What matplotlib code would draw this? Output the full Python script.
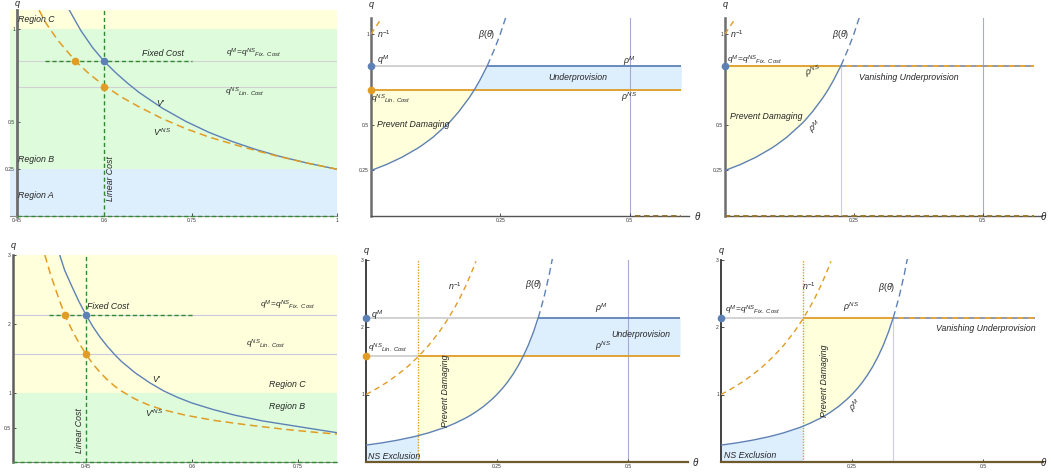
import matplotlib.pyplot as plt
import numpy as np

plt.rcParams['font.family'] = ['Liberation Sans', 'DejaVu Sans']
plt.rcParams['mathtext.fontset'] = 'custom'
plt.rcParams['mathtext.it'] = 'Liberation Sans:italic'
plt.rcParams['mathtext.rm'] = 'Liberation Sans'

W, H = 1051, 473

# --- data ---
# top-left panel: V' and V'^NS against x
v1_x = [0.54, 0.56, 0.58, 0.60, 0.62, 0.64, 0.66, 0.70, 0.74, 0.78, 0.82, 0.86, 0.90, 0.95, 1.00]
v1_q = [1.10, 0.99, 0.90, 0.826, 0.765, 0.71, 0.66, 0.576, 0.506, 0.447, 0.398, 0.356, 0.32, 0.282, 0.25]
vns1_x = [0.488, 0.50, 0.52, 0.55, 0.575, 0.60, 0.63, 0.66, 0.70, 0.74, 0.78, 0.82, 0.86, 0.90, 0.95, 1.00]
vns1_q = [1.10, 1.03, 0.94, 0.83, 0.757, 0.697, 0.635, 0.583, 0.52, 0.467, 0.422, 0.385, 0.35, 0.318, 0.282, 0.25]
qm_top, qns_top = 0.826, 0.69
x_fix1, x_lin1 = 0.55, 0.60

# bottom-left panel
v4_x = [0.413, 0.42, 0.43, 0.44, 0.45, 0.46, 0.47, 0.48, 0.49, 0.50, 0.52, 0.54, 0.56,
        0.58, 0.60, 0.63, 0.66, 0.70, 0.74, 0.78, 0.805]
v4_q = [3.0, 2.78, 2.55, 2.33, 2.135, 1.96, 1.81, 1.68, 1.565, 1.46, 1.29, 1.15, 1.03,
        0.935, 0.855, 0.76, 0.68, 0.595, 0.53, 0.465, 0.425]
vns4_x = [0.392, 0.40, 0.41, 0.42, 0.43, 0.44, 0.45, 0.46, 0.47, 0.48, 0.49, 0.50, 0.52,
          0.54, 0.56, 0.59, 0.63, 0.68, 0.73, 0.775, 0.805]
vns4_q = [3.0, 2.72, 2.42, 2.135, 1.92, 1.73, 1.565, 1.42, 1.30, 1.195, 1.105, 1.03, 0.91,
          0.82, 0.755, 0.68, 0.605, 0.535, 0.475, 0.43, 0.405]
qm_bot, qns_bot = 2.135, 1.565
x_fix4, x_lin4 = 0.42, 0.45

# beta(theta) curve, shared by the four right panels
theta_b = [0, 0.03, 0.06, 0.09, 0.10, 0.12, 0.15, 0.156, 0.17, 0.19, 0.20, 0.21, 0.225,
           0.24, 0.25, 0.261, 0.27, 0.28, 0.29, 0.30, 0.31, 0.32, 0.33, 0.34, 0.35, 0.356]
beta_q = [0.25, 0.283, 0.323, 0.372, 0.391, 0.433, 0.51, 0.528, 0.574, 0.65, 0.694, 0.743, 0.826,
          0.925, 1.0, 1.094, 1.181, 1.291, 1.417, 1.5625, 1.731, 1.929, 2.163, 2.441, 2.778, 3.014]
# n^-1 curve
theta_n = [0, 0.02, 0.04, 0.06, 0.08, 0.10, 0.12, 0.14, 0.156, 0.17, 0.18, 0.19, 0.20, 0.21]
ninv_q = [1.0, 1.085, 1.181, 1.291, 1.417, 1.5625, 1.731, 1.929, 2.113, 2.296, 2.441, 2.601, 2.778, 2.973]
cut5, cut6 = 0.10, 0.156
theta_end = 0.6

xt1, xt1_lab = [0.45, 0.6, 0.75, 1.0], ['0.45', '0.6', '0.75', '1']
yt1, yt1_lab = [0.25, 0.5, 1.0], ['0.25', '0.5', '1']
xt4, xt4_lab = [0.45, 0.6, 0.75], ['0.45', '0.6', '0.75']
yt4, yt4_lab = [0.5, 1, 2, 3], ['0.5', '1', '2', '3']
xt_th, xt_th_lab = [0.25, 0.5], ['0.25', '0.5']
yt_bot, yt_bot_lab = [1, 2, 3], ['1', '2', '3']

BLUE = '#5E81B5'
ORANGE = '#E19C24'
GREEN = '#2F8A2F'
LY = '#FFFFDC'
LG = '#DEFCDC'
LB = '#DDEEFD'
LAV = '#A9A9D6'
GREY = '#D2D2D2'
TXT = '#262626'

fig = plt.figure(figsize=(W / 100, H / 100), dpi=100)


def add_ax(l, r, t, b, xlim, ylim, xt, xl, yt, yl):
    ax = fig.add_axes([l / W, 1 - b / H, (r - l) / W, (b - t) / H])
    ax.set_xlim(xlim)
    ax.set_ylim(ylim)
    ax.patch.set_alpha(0)
    for s in ['top', 'right']:
        ax.spines[s].set_visible(False)
    ax.set_xticks(xt, xl)
    ax.set_yticks(yt, yl)
    ax.tick_params(labelsize=3.6, length=2, width=0.6, pad=1.5, direction='in', colors='#333333')
    return ax


def txt(ax, x, y, s, size=6.3, **kw):
    ax.text(x, y, s, fontsize=size, style='italic', color=TXT, **kw)


def split_at(th, b, level):
    th = np.asarray(th)
    b = np.asarray(b)
    tc = np.interp(level, b, th)
    lo = th < tc
    return (np.append(th[lo], tc), np.append(b[lo], level),
            np.insert(th[~lo], 0, tc), np.insert(b[~lo], 0, level), tc)


def fill_left(ax, th, b, level, th0, color):
    th = np.asarray(th)
    b = np.asarray(b)
    m = th >= th0
    ax.fill_between(th[m], b[m], level, where=b[m] <= level, interpolate=True,
                    color=color, lw=0, zorder=1)


def fill_right(ax, th, b, lo, hi, color):
    t = np.append(th, theta_end)
    u = np.minimum(np.append(b, b[-1]), hi)
    ax.fill_between(t, lo, u, where=u >= lo, interpolate=True, color=color, lw=0, zorder=1)


def axis_labels(ax, qx, qy, tx=None):
    ax.text(qx, qy, 'q', fontsize=6.5, style='italic', color=TXT, ha='center',
            va='center', clip_on=False)
    if tx is not None:
        ax.text(tx, 0, r'$\theta$', fontsize=7, color=TXT, ha='left', va='center', clip_on=False)


# ---------------- top-left ----------------
ax1 = add_ax(10, 337, 10.2, 216, (0.438, 1.0), (0, 1.1), xt1, xt1_lab, yt1, yt1_lab)
ax1.spines['left'].set_position(('data', 0.45))
ax1.spines['left'].set(color='#6d6d6d', lw=2)
ax1.spines['bottom'].set(color='#8a8a8a', lw=0.8)
ax1.axhspan(0, 0.25, color=LB, lw=0, zorder=0)
ax1.axhspan(0.25, 1.0, color=LG, lw=0, zorder=0)
ax1.axhspan(1.0, 1.1, color=LY, lw=0, zorder=0)
ax1.hlines([qm_top, qns_top], 0.45, 1.0, color=GREY, lw=0.8, zorder=1)
ax1.axvline(x_lin1, color=GREEN, lw=1.0, dashes=(3, 2), zorder=2)
ax1.hlines(qm_top, 0.498, 0.75, color=GREEN, lw=1.0, linestyles=(0, (3, 2)), zorder=2)
ax1.hlines(0, 0.45, 1.0, color=GREEN, lw=1.0, linestyles=(0, (3, 2)), zorder=3, clip_on=False)
ax1.plot(v1_x, v1_q, color=BLUE, lw=1.0, zorder=3)
ax1.plot(vns1_x, vns1_q, color=ORANGE, lw=1.1, dashes=(5, 3), zorder=3)
ax1.plot([x_fix1, x_lin1], [qm_top, qns_top], 'o', color=ORANGE, ms=4.5, zorder=5)
ax1.plot([x_lin1], [qm_top], 'o', color=BLUE, ms=4.5, zorder=5)
txt(ax1, 0.451, 1.05, 'Region C', va='center')
txt(ax1, 0.451, 0.30, 'Region B', va='center')
txt(ax1, 0.451, 0.108, 'Region A', va='center')
txt(ax1, 0.70, 0.87, 'Fixed Cost', ha='center', va='center')
txt(ax1, 0.81, 0.87, r'$q^{M}\!=\!q^{NS}{}_{Fix.\ Cost}$', size=6, va='center')
txt(ax1, 0.808, 0.66, r'$q^{NS}{}_{Lin.\ Cost}$', size=6, va='center')
txt(ax1, 0.69, 0.60, "V'", va='center')
txt(ax1, 0.683, 0.45, r"V'$^{NS}$", va='center')
txt(ax1, 0.611, 0.2, 'Linear Cost', rotation=90, ha='center', va='center')
axis_labels(ax1, 0.45, 1.135)

# ---------------- bottom-left ----------------
ax4 = add_ax(13, 337, 255, 462, (0.347, 0.805), (0, 3.0), xt4, xt4_lab, yt4, yt4_lab)
ax4.spines['left'].set(color='#5e5e5e', lw=1.8)
ax4.spines['bottom'].set(color='#8a8a8a', lw=0.8)
ax4.axhspan(0, 1.0, color=LG, lw=0, zorder=0)
ax4.axhspan(1.0, 3.0, color=LY, lw=0, zorder=0)
ax4.hlines([qm_bot, qns_bot], 0.347, 0.805, color='#C9C9E0', lw=0.8, zorder=1)
ax4.axvline(x_lin4, color=GREEN, lw=1.0, dashes=(3, 2), zorder=2)
ax4.hlines(qm_bot, 0.398, 0.602, color=GREEN, lw=1.0, linestyles=(0, (3, 2)), zorder=2)
ax4.hlines(0, 0.347, 0.805, color=GREEN, lw=1.0, linestyles=(0, (3, 2)), zorder=3, clip_on=False)
ax4.plot(v4_x, v4_q, color=BLUE, lw=1.0, zorder=3)
ax4.plot(vns4_x, vns4_q, color=ORANGE, lw=1.1, dashes=(5, 3), zorder=3)
ax4.plot([x_fix4, x_lin4], [qm_bot, qns_bot], 'o', color=ORANGE, ms=4.5, zorder=5)
ax4.plot([x_lin4], [qm_bot], 'o', color=BLUE, ms=4.5, zorder=5)
txt(ax4, 0.452, 2.25, 'Fixed Cost', va='center')
txt(ax4, 0.696, 2.27, r'$q^{M}\!=\!q^{NS}{}_{Fix.\ Cost}$', size=6, va='center')
txt(ax4, 0.676, 1.70, r'$q^{NS}{}_{Lin.\ Cost}$', size=6, va='center')
txt(ax4, 0.544, 1.19, "V'", va='center')
txt(ax4, 0.709, 1.13, 'Region C', va='center')
txt(ax4, 0.709, 0.80, 'Region B', va='center')
txt(ax4, 0.534, 0.71, r"V'$^{NS}$", va='center')
txt(ax4, 0.441, 0.46, 'Linear Cost', rotation=90, ha='center', va='center')
axis_labels(ax4, 0.347, 3.14)

# ---------------- top-middle ----------------
ax2 = add_ax(371, 689, 17.6, 216, (0, 0.615), (0, 1.09), xt_th, xt_th_lab, yt1, yt1_lab)
ax2.spines['left'].set(color='#6d6d6d', lw=1.8)
ax2.spines['bottom'].set(color='#555555', lw=1.0)
fill_left(ax2, theta_b, beta_q, qns_top, 0, LY)
fill_right(ax2, theta_b, beta_q, qns_top, qm_top, LB)
ax2.axvline(0.5, color=LAV, lw=0.8, zorder=1)
t1, b1, t2, b2, tc2 = split_at(theta_b, beta_q, qm_top)
ax2.hlines(qm_top, 0, tc2, color=GREY, lw=1.4, zorder=2)
ax2.hlines(qm_top, tc2, theta_end, color=BLUE, lw=1.3, zorder=2)
ax2.hlines(qns_top, 0, theta_end, color=ORANGE, lw=1.3, zorder=2)
ax2.hlines(0, 0.51, theta_end, color='#8a6a2a', lw=1.3, linestyles=(0, (3, 2)), zorder=3, clip_on=False)
ax2.plot(t1, b1, color=BLUE, lw=1.0, zorder=3)
ax2.plot(t2, b2, color=BLUE, lw=1.0, dashes=(5, 3), zorder=3)
ax2.plot(theta_n, ninv_q, color=ORANGE, lw=1.0, dashes=(4, 3), zorder=3)
ax2.plot([0], [qm_top], 'o', color=BLUE, ms=4.5, zorder=5, clip_on=False)
ax2.plot([0], [qns_top], 'o', color=ORANGE, ms=4.5, zorder=5, clip_on=False)
txt(ax2, 0.011, 1.0, r'$n^{-1}$', va='center')
txt(ax2, 0.207, 0.995, r'$\beta(\theta)$', va='center')
txt(ax2, 0.011, 0.857, r'$q^{M}$', va='center')
txt(ax2, 0.487, 0.85, r'$\rho^{M}$', va='center')
txt(ax2, 0.40, 0.76, 'Underprovision', ha='center', va='center')
txt(ax2, 0.0, 0.64, r'$q^{NS}{}_{Lin.\ Cost}$', size=6, va='center')
txt(ax2, 0.484, 0.655, r'$\rho^{NS}$', va='center')
txt(ax2, 0.011, 0.5, 'Prevent Damaging', va='center')
axis_labels(ax2, 0, 1.16, 0.625)

# ---------------- top-right ----------------
ax3 = add_ax(725, 1042, 17.6, 216, (0, 0.615), (0, 1.09), xt_th, xt_th_lab, yt1, yt1_lab)
ax3.spines['left'].set(color='#6d6d6d', lw=1.8)
ax3.spines['bottom'].set(color='#555555', lw=1.0)
fill_left(ax3, theta_b, beta_q, qm_top, 0, LY)
t1, b1, t2, b2, tc3 = split_at(theta_b, beta_q, qm_top)
ax3.axvline(0.5, color=LAV, lw=0.8, zorder=1)
ax3.vlines(tc3, 0, qm_top, color='#CCCCE6', lw=0.8, zorder=1)
ax3.hlines(qm_top, 0, theta_end, color=ORANGE, lw=1.3, zorder=2)
ax3.hlines(qm_top, tc3, theta_end, color='#8C9CB8', lw=1.3, linestyles=(0, (3, 3)), zorder=2)
ax3.hlines(0, 0, theta_end, color='#9a7228', lw=1.3, linestyles=(0, (3, 2)), zorder=3, clip_on=False)
ax3.plot(t1, b1, color=BLUE, lw=1.0, zorder=3)
ax3.plot(t2, b2, color=BLUE, lw=1.0, dashes=(5, 3), zorder=3)
ax3.plot(theta_n, ninv_q, color=ORANGE, lw=1.0, dashes=(4, 3), zorder=3)
ax3.plot([0], [qm_top], 'o', color=BLUE, ms=4.5, zorder=5, clip_on=False)
txt(ax3, 0.01, 1.0, r'$n^{-1}$', va='center')
txt(ax3, 0.207, 0.995, r'$\beta(\theta)$', va='center')
txt(ax3, 0.004, 0.855, r'$q^{M}\!=\!q^{NS}{}_{Fix.\ Cost}$', size=6, va='center')
txt(ax3, 0.152, 0.795, r'$\rho^{NS}$', va='center', rotation=15)
txt(ax3, 0.26, 0.76, 'Vanishing Underprovision', va='center')
txt(ax3, 0.01, 0.545, 'Prevent Damaging', va='center')
txt(ax3, 0.158, 0.49, r'$\rho^{M}$', va='center', rotation=35)
axis_labels(ax3, 0, 1.16, 0.611)

# ---------------- bottom-middle ----------------
ax5 = add_ax(366, 688, 259.5, 462, (0, 0.615), (0, 3.0), xt_th, xt_th_lab, yt_bot, yt_bot_lab)
ax5.spines['left'].set(color='#333333', lw=1.3)
ax5.spines['bottom'].set(color='#6E5A2C', lw=1.6)
th_arr, b_arr = np.asarray(theta_b), np.asarray(beta_q)
m5 = th_arr <= cut5
ax5.fill_between(th_arr[m5], 0, b_arr[m5], color=LB, lw=0, zorder=1)
fill_left(ax5, theta_b, beta_q, qns_bot, cut5, LY)
fill_right(ax5, theta_b, beta_q, qns_bot, qm_bot, LB)
ax5.axvline(0.5, color=LAV, lw=0.8, zorder=1)
ax5.axvline(cut5, color=ORANGE, lw=1.0, dashes=(1, 1), zorder=2)
t1, b1, t2, b2, tc5 = split_at(theta_b, beta_q, qm_bot)
ax5.hlines(qm_bot, 0, tc5, color=GREY, lw=1.4, zorder=2)
ax5.hlines(qm_bot, tc5, theta_end, color=BLUE, lw=1.3, zorder=2)
ax5.hlines(qns_bot, 0, cut5, color=GREY, lw=1.4, zorder=2)
ax5.hlines(qns_bot, cut5, theta_end, color=ORANGE, lw=1.3, zorder=2)
ax5.plot(t1, b1, color=BLUE, lw=1.0, zorder=3)
ax5.plot(t2, b2, color=BLUE, lw=1.0, dashes=(5, 3), zorder=3)
ax5.plot(theta_n, ninv_q, color=ORANGE, lw=1.0, dashes=(4, 3), zorder=3)
ax5.plot([0], [qm_bot], 'o', color=BLUE, ms=4.5, zorder=5, clip_on=False)
ax5.plot([0], [qns_bot], 'o', color=ORANGE, ms=4.5, zorder=5, clip_on=False)
txt(ax5, 0.157, 2.6, r'$n^{-1}$', va='center')
txt(ax5, 0.303, 2.63, r'$\beta(\theta)$', va='center')
txt(ax5, 0.009, 2.18, r'$q^{M}$', va='center')
txt(ax5, 0.437, 2.28, r'$\rho^{M}$', va='center')
txt(ax5, 0.469, 1.89, 'Underprovision', va='center')
txt(ax5, 0.437, 1.72, r'$\rho^{NS}$', va='center')
txt(ax5, 0.004, 1.68, r'$q^{NS}{}_{Lin.\ Cost}$', size=6, va='center')
txt(ax5, 0.151, 1.05, 'Prevent Damaging', rotation=90, ha='center', va='center')
txt(ax5, 0.003, 0.08, 'NS Exclusion', va='center')
axis_labels(ax5, 0, 3.14, 0.623)

# ---------------- bottom-right ----------------
ax6 = add_ax(721, 1043, 259.5, 462, (0, 0.615), (0, 3.0), xt_th, xt_th_lab, yt_bot, yt_bot_lab)
ax6.spines['left'].set(color='#333333', lw=1.3)
ax6.spines['bottom'].set(color='#6E5A2C', lw=1.6)
m6 = th_arr <= cut6
ax6.fill_between(th_arr[m6], 0, b_arr[m6], color=LB, lw=0, zorder=1)
fill_left(ax6, theta_b, beta_q, qm_bot, cut6, LY)
t1, b1, t2, b2, tc6 = split_at(theta_b, beta_q, qm_bot)
ax6.vlines(tc6, 0, qm_bot, color='#CCCCE6', lw=0.8, zorder=1)
ax6.axvline(cut6, color=ORANGE, lw=1.0, dashes=(1, 1), zorder=2)
ax6.hlines(qm_bot, 0, cut6, color=GREY, lw=1.4, zorder=2)
ax6.hlines(qm_bot, cut6, theta_end, color=ORANGE, lw=1.3, zorder=2)
ax6.hlines(qm_bot, tc6, theta_end, color='#8C9CB8', lw=1.3, linestyles=(0, (3, 3)), zorder=2)
ax6.plot(t1, b1, color=BLUE, lw=1.0, zorder=3)
ax6.plot(t2, b2, color=BLUE, lw=1.0, dashes=(5, 3), zorder=3)
ax6.plot(theta_n, ninv_q, color=ORANGE, lw=1.0, dashes=(4, 3), zorder=3)
ax6.plot([0], [qm_bot], 'o', color=BLUE, ms=4.5, zorder=5, clip_on=False)
txt(ax6, 0.154, 2.6, r'$n^{-1}$', va='center')
txt(ax6, 0.30, 2.58, r'$\beta(\theta)$', va='center')
txt(ax6, 0.008, 2.25, r'$q^{M}\!=\!q^{NS}{}_{Fix.\ Cost}$', size=6, va='center')
txt(ax6, 0.233, 2.3, r'$\rho^{NS}$', va='center')
txt(ax6, 0.41, 1.98, 'Vanishing Underprovision', va='center')
txt(ax6, 0.198, 1.21, 'Prevent Damaging', rotation=90, ha='center', va='center')
txt(ax6, 0.24, 0.84, r'$\rho^{M}$', va='center', rotation=40)
txt(ax6, 0.005, 0.09, 'NS Exclusion', va='center')
axis_labels(ax6, 0, 3.14, 0.609)

fig.savefig('out.png', dpi=100)
